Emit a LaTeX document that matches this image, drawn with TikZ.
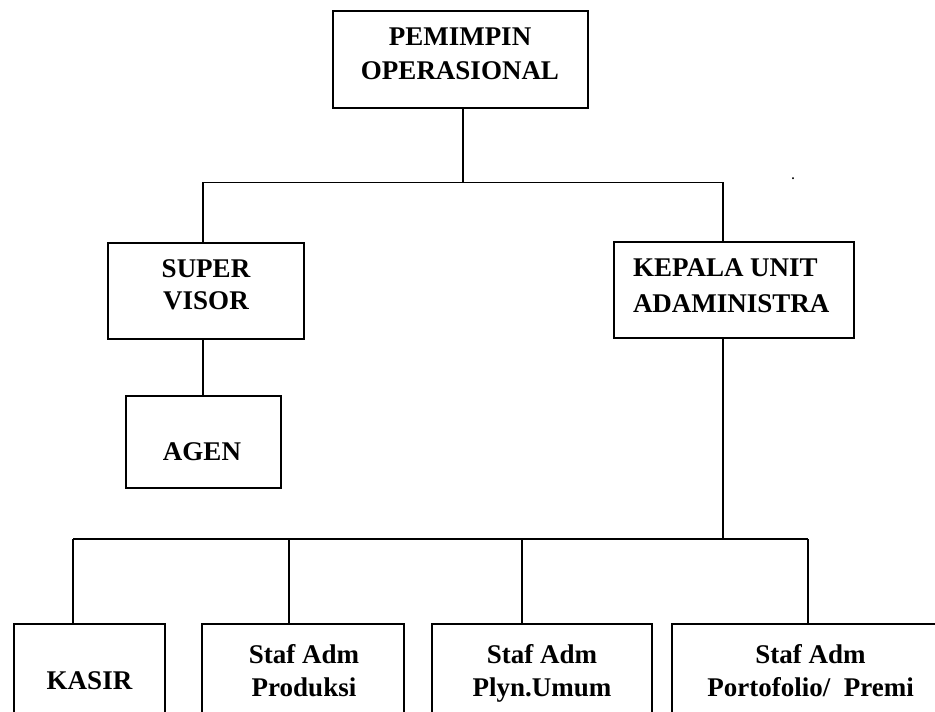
\documentclass[tikz,border=0pt]{standalone}
\usepackage{fontspec}
\setmainfont{Liberation Serif}
\begin{document}
\begin{tikzpicture}[x=1pt,y=-1pt,
  box/.style={draw=black,line width=1.6pt,rectangle,inner sep=0pt,outer sep=0pt,fill=none},
  lbl/.style={inner sep=0pt,outer sep=0pt,font=\bfseries\fontsize{27}{32}\selectfont,align=center,anchor=north},
  lbltop/.style={lbl,font=\bfseries\fontsize{27}{34}\selectfont},
  lblw/.style={lbl,font=\bfseries\fontsize{27}{36}\selectfont},
  lblb/.style={lbl,font=\bfseries\fontsize{27}{33}\selectfont},
  conn/.style={draw=black,line width=1.3pt}]
\useasboundingbox (0,0) rectangle (935,712);
\clip (0,0) rectangle (935,712);
% boxes
\node[box,minimum width=255,minimum height=97] (top) at (460.5,59.5) {};
\node[box,minimum width=196,minimum height=96] (super) at (206,291) {};
\node[box,minimum width=240,minimum height=96] (kep) at (734,290) {};
\node[box,minimum width=155,minimum height=92] (agen) at (203.5,442) {};
\node[box,minimum width=151,minimum height=120,anchor=north west] (kasir) at (14,624) {};
\node[box,minimum width=202,minimum height=120,anchor=north west] (prod) at (202,624) {};
\node[box,minimum width=220,minimum height=120,anchor=north west] (plyn) at (432,624) {};
\node[box,minimum width=277,minimum height=120,anchor=north west] (port) at (672,624) {};
% labels
\node[lbltop] (topT) at (460,28) {PEMIMPIN\\OPERASIONAL};
\node[lbl] (superT) at (206,260) {SUPER\\VISOR};
\node[lblw,align=left,anchor=north west] (kepT) at (633,259) {KEPALA UNIT\\ADAMINISTRA};
\node[lbl] (agenT) at (202,443) {AGEN};
\node[lbl] (kasirT) at (89.5,672) {KASIR};
\node[lblb] (prodT) at (304,644) {Staf Adm\\Produksi};
\node[lblb] (plynT) at (542,644) {Staf Adm\\Plyn.Umum};
\node[lblb] (portT) at (810.5,644) {Staf Adm\\Portofolio/\ \ Premi};
\node[inner sep=0pt,font=\bfseries\fontsize{12}{12}\selectfont,anchor=base] (dot) at (793,179) {.};
% junctions
\coordinate (j1) at (463,182.5);
\coordinate (sL) at (203,182.5);
\coordinate (sR) at (723,182.5);
\coordinate (j2) at (723,539);
\coordinate (b1) at (73,539);
\coordinate (b2) at (289,539);
\coordinate (b3) at (522,539);
\coordinate (b4) at (808,539);
% connectors
\draw[conn] (top.south -| j1) -- (j1);
\draw[conn] (super.north -| sL) -- (sL) -- (sR) -- (kep.north -| sR);
\draw[conn] (super.south -| sL) -- (agen.north -| sL);
\draw[conn] (kep.south -| j2) -- (j2);
\draw[conn] (b1) -- (b4);
\draw[conn] (b1) -- (kasir.north -| b1);
\draw[conn] (b2) -- (prod.north -| b2);
\draw[conn] (b3) -- (plyn.north -| b3);
\draw[conn] (b4) -- (port.north -| b4);
\end{tikzpicture}
\end{document}
